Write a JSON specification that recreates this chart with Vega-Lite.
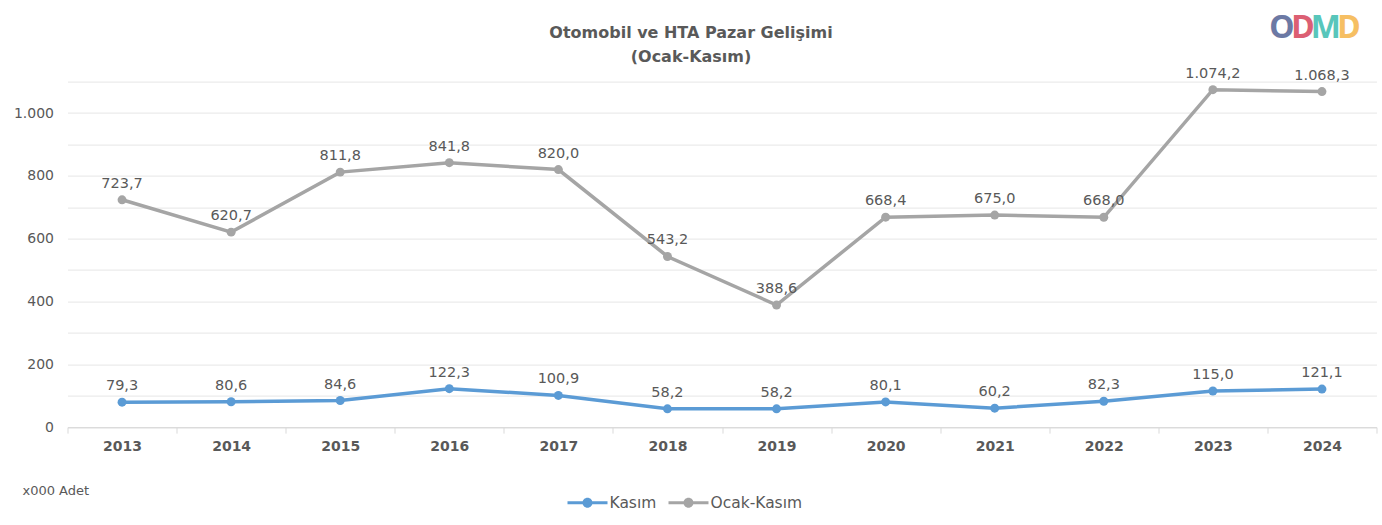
{
  "$schema": "https://vega.github.io/schema/vega-lite/v6.json",
  "width": 1309,
  "height": 345.5,
  "autosize": {"type": "none"},
  "padding": {"left": 67.5, "top": 81.6, "right": 5.5, "bottom": 98},
  "background": "white",
  "config": {
    "locale": {"number": {"decimal": ",", "thousands": ".", "grouping": [3], "currency": ["", " ₺"]}},
    "font": "DejaVu Sans",
    "view": {"stroke": null}
  },
  "title": {
    "text": ["Otomobil ve HTA Pazar Gelişimi", "(Ocak-Kasım)"],
    "fontSize": 16,
    "fontWeight": "bold",
    "color": "#595959",
    "lineHeight": 24,
    "anchor": "middle",
    "dx": -31,
    "offset": -53,
    "frame": "group"
  },
  "data": {
    "values": [
      {"year": "2013", "series": "Kasım", "value": 79.3},
      {"year": "2014", "series": "Kasım", "value": 80.6},
      {"year": "2015", "series": "Kasım", "value": 84.6},
      {"year": "2016", "series": "Kasım", "value": 122.3},
      {"year": "2017", "series": "Kasım", "value": 100.9},
      {"year": "2018", "series": "Kasım", "value": 58.2},
      {"year": "2019", "series": "Kasım", "value": 58.2},
      {"year": "2020", "series": "Kasım", "value": 80.1},
      {"year": "2021", "series": "Kasım", "value": 60.2},
      {"year": "2022", "series": "Kasım", "value": 82.3},
      {"year": "2023", "series": "Kasım", "value": 115.0},
      {"year": "2024", "series": "Kasım", "value": 121.1},
      {"year": "2013", "series": "Ocak-Kasım", "value": 723.7},
      {"year": "2014", "series": "Ocak-Kasım", "value": 620.7},
      {"year": "2015", "series": "Ocak-Kasım", "value": 811.8},
      {"year": "2016", "series": "Ocak-Kasım", "value": 841.8},
      {"year": "2017", "series": "Ocak-Kasım", "value": 820.0},
      {"year": "2018", "series": "Ocak-Kasım", "value": 543.2},
      {"year": "2019", "series": "Ocak-Kasım", "value": 388.6},
      {"year": "2020", "series": "Ocak-Kasım", "value": 668.4},
      {"year": "2021", "series": "Ocak-Kasım", "value": 675.0},
      {"year": "2022", "series": "Ocak-Kasım", "value": 668.0},
      {"year": "2023", "series": "Ocak-Kasım", "value": 1074.2},
      {"year": "2024", "series": "Ocak-Kasım", "value": 1068.3}
    ]
  },
  "encoding": {
    "x": {
      "field": "year",
      "type": "ordinal",
      "scale": {"paddingInner": 0, "paddingOuter": 0},
      "axis": {
        "title": null,
        "labelAngle": 0,
        "labelFontWeight": "bold",
        "labelFontSize": 14,
        "labelColor": "#595959",
        "labelPadding": 6,
        "tickBand": "extent",
        "ticks": true,
        "tickColor": "#d9d9d9",
        "tickSize": 6,
        "domainColor": "#d9d9d9",
        "grid": false
      }
    },
    "y": {
      "field": "value",
      "type": "quantitative",
      "scale": {"domain": [0, 1100], "nice": false},
      "axis": {
        "values": [0, 100, 200, 300, 400, 500, 600, 700, 800, 900, 1000, 1100],
        "labelExpr": "datum.value % 200 == 0 && datum.value <= 1000 ? format(datum.value, ',d') : ''",
        "domain": false,
        "ticks": false,
        "gridColor": "#e6e6e6",
        "labelFontSize": 14,
        "labelColor": "#595959",
        "labelPadding": 14,
        "title": "x000 Adet",
        "titleAngle": 0,
        "titleX": -45.5,
        "titleY": 409,
        "titleAlign": "left",
        "titleBaseline": "middle",
        "titleFontWeight": "normal",
        "titleFontSize": 13,
        "titleColor": "#595959"
      }
    },
    "color": {
      "field": "series",
      "type": "nominal",
      "scale": {"domain": ["Kasım", "Ocak-Kasım"], "range": ["#5b9bd5", "#a5a5a5"]},
      "legend": {
        "title": null,
        "orient": "none",
        "legendX": 500,
        "legendY": 401,
        "direction": "horizontal",
        "symbolType": "M-1,-0.075L1,-0.075L1,0.075L-1,0.075Z M0.25,0A0.25,0.25,0,1,1,-0.25,0A0.25,0.25,0,1,1,0.25,0Z",
        "symbolSize": 1600,
        "labelFontSize": 15.5,
        "labelColor": "#595959",
        "columnPadding": 12,
        "labelOffset": 2,
        "encode": {
          "symbols": {
            "update": {
              "fill": {"scale": "color", "field": "value"},
              "strokeWidth": {"value": 0}
            }
          }
        }
      }
    }
  },
  "layer": [
    {
      "mark": {"type": "line", "strokeWidth": 3.5, "point": {"filled": true, "size": 80}}
    },
    {
      "mark": {"type": "text", "baseline": "bottom", "dy": -9, "fontSize": 14.5, "color": "#595959"},
      "encoding": {
        "text": {"field": "value", "type": "quantitative", "format": ",.1f"},
        "color": {"value": "#595959"}
      }
    },
    {
      "data": {"values": [{"t": "O", "year": "2024", "value": 1270}]},
      "mark": {"type": "text", "fontSize": 32, "fontWeight": "bold", "font": "Noto Sans", "dx": -40, "opacity": 0.9},
      "encoding": {"text": {"field": "t"}, "color": {"value": "#5d6b9b"}}
    },
    {
      "data": {"values": [{"t": "D", "year": "2024", "value": 1270}]},
      "mark": {"type": "text", "fontSize": 32, "fontWeight": "bold", "font": "Noto Sans", "dx": -19, "opacity": 0.85},
      "encoding": {"text": {"field": "t"}, "color": {"value": "#d6445b"}}
    },
    {
      "data": {"values": [{"t": "M", "year": "2024", "value": 1270}]},
      "mark": {"type": "text", "fontSize": 32, "fontWeight": "bold", "font": "Noto Sans", "dx": 4, "opacity": 0.85},
      "encoding": {"text": {"field": "t"}, "color": {"value": "#3cbdb0"}}
    },
    {
      "data": {"values": [{"t": "D", "year": "2024", "value": 1270}]},
      "mark": {"type": "text", "fontSize": 32, "fontWeight": "bold", "font": "Noto Sans", "dx": 27, "opacity": 0.85},
      "encoding": {"text": {"field": "t"}, "color": {"value": "#f5b548"}}
    }
  ]
}
